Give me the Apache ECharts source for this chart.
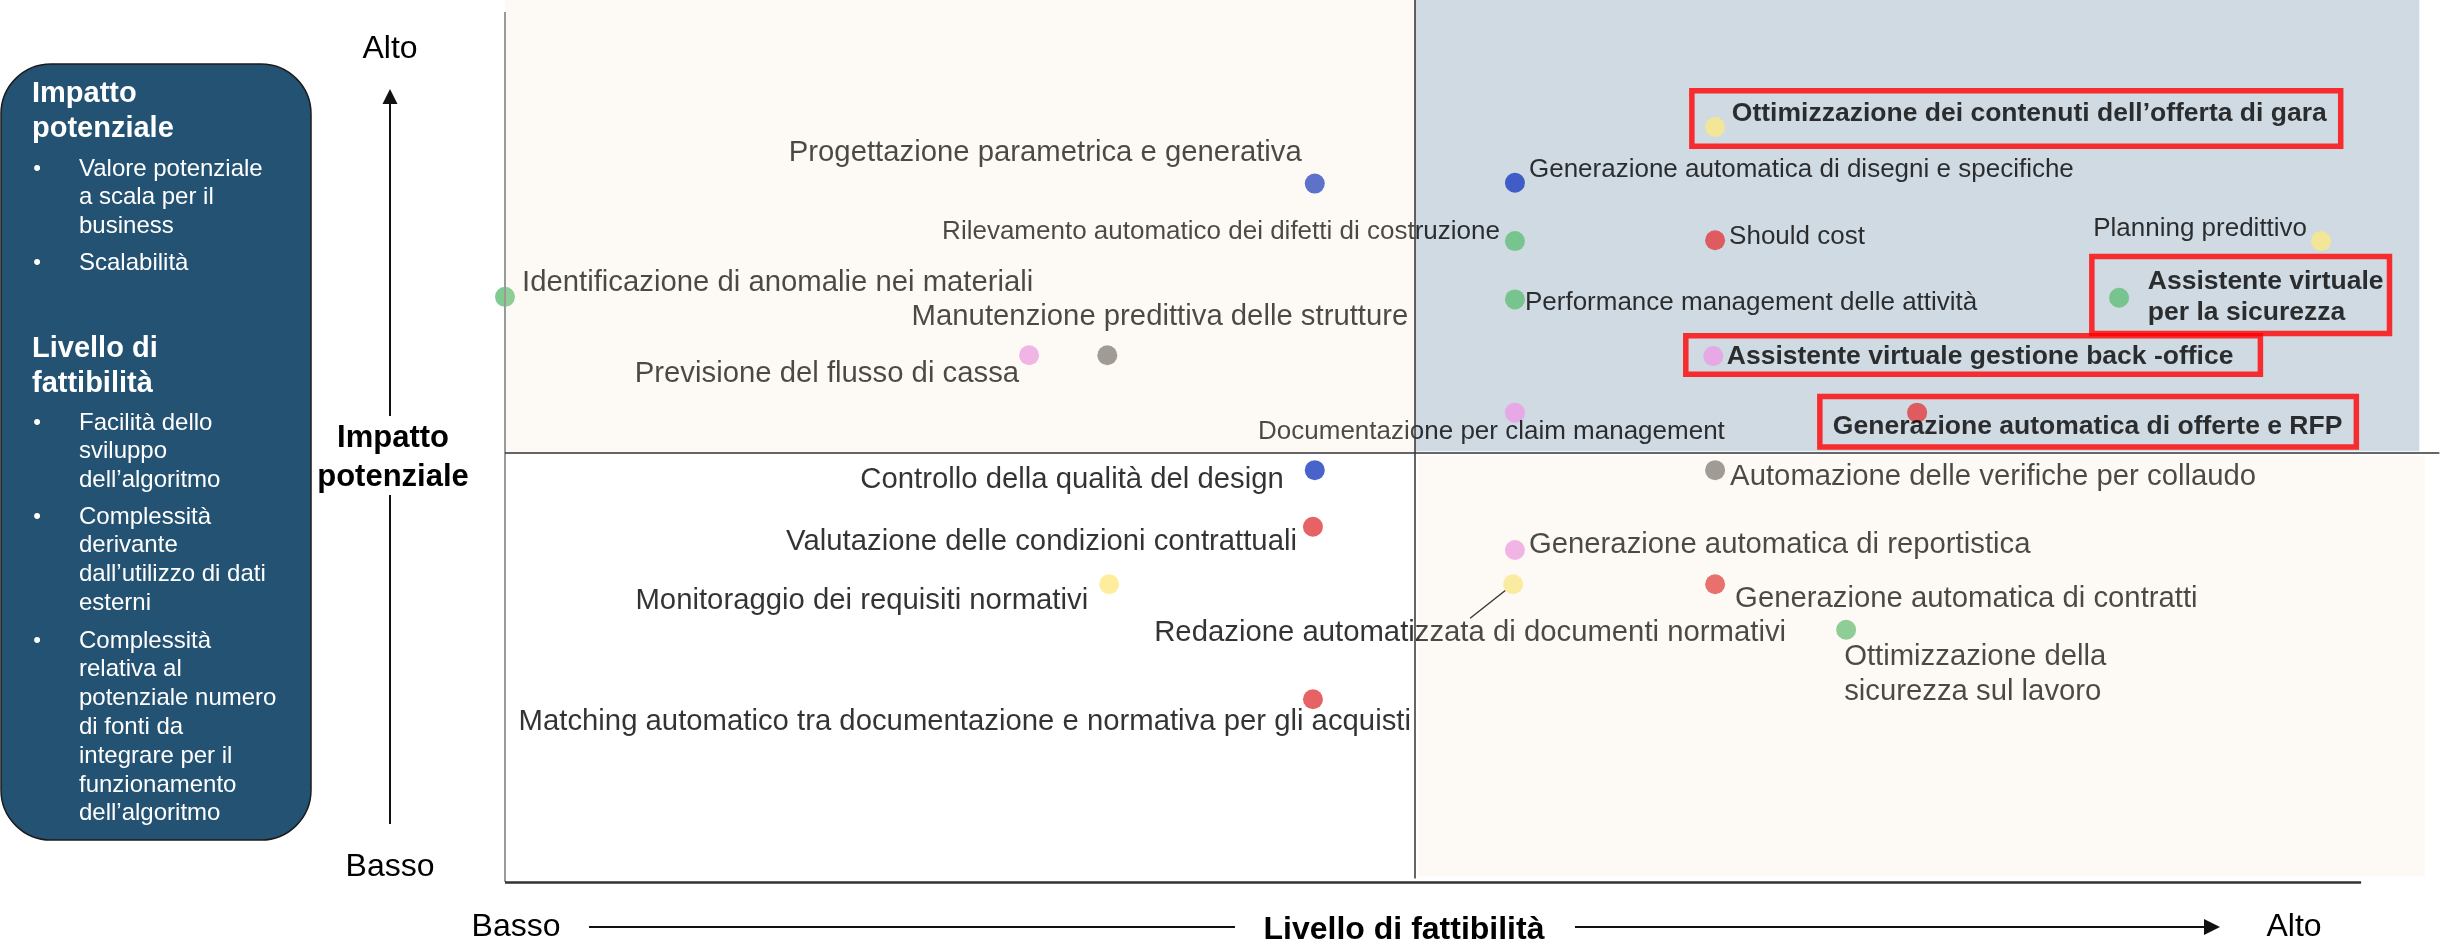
<!DOCTYPE html>
<html>
<head>
<meta charset="utf-8">
<title>Matrice impatto / fattibilità</title>
<script src="https://cdn.jsdelivr.net/npm/echarts@6/dist/echarts.min.js"></script>
<style>
  html, body { margin: 0; padding: 0; background: #fff; }
  #chart { width: 2445px; height: 952px; }
</style>
</head>
<body>
<div id="chart"></div>
<script>
const useCases = [
  'Progettazione parametrica e generativa',
  'Rilevamento automatico dei difetti di costruzione',
  'Identificazione di anomalie nei materiali',
  'Manutenzione predittiva delle strutture',
  'Previsione del flusso di cassa',
  'Documentazione per claim management',
  'Controllo della qualità del design',
  'Valutazione delle condizioni contrattuali',
  'Monitoraggio dei requisiti normativi',
  'Redazione automatizzata di documenti normativi',
  'Matching automatico tra documentazione e normativa per gli acquisti',
  'Ottimizzazione dei contenuti dell’offerta di gara',
  'Generazione automatica di disegni e specifiche',
  'Should cost',
  'Planning predittivo',
  'Assistente virtuale\nper la sicurezza',
  'Performance management delle attività',
  'Assistente virtuale gestione back -office',
  'Generazione automatica di offerte e RFP',
  'Automazione delle verifiche per collaudo',
  'Generazione automatica di reportistica',
  'Generazione automatica di contratti',
  'Ottimizzazione della\nsicurezza sul lavoro'
]
// livello di fattibilità (0 = basso, 50 = metà)
const feasibility = [44.5, 55.5, 0, 33.1, 28.8, 55.5, 44.5, 44.4, 33.2, 55.4, 44.4, 66.5, 55.5, 66.5, 99.8, 88.7, 55.5, 66.4, 77.6, 66.5, 55.5, 66.5, 73.7]
// impatto potenziale (0 = basso, 50 = metà)
const impact = [81.4, 74.7, 68.2, 61.4, 61.4, 54.7, 48.0, 41.4, 34.7, 34.7, 21.3, 88.0, 81.5, 74.8, 74.7, 68.1, 67.9, 61.3, 54.7, 48.0, 38.7, 34.7, 29.4]
const family = ['blu', 'verde', 'verde', 'grigio', 'rosa', 'rosa', 'blu', 'rosso', 'giallo', 'giallo', 'rosso',
  'giallo', 'blu', 'rosso', 'giallo', 'verde', 'verde', 'rosa', 'rosso', 'grigio', 'rosa', 'rosso', 'verde']
// casi evidenziati in rosso
const priority = [11, 15, 17, 18]

const yTicks = ['Basso', 'Alto']
const xTicks = ['Basso', 'Alto']
const yTitle = 'Impatto\npotenziale'
const xTitle = 'Livello di fattibilità'

const palette = {
  blu: '#1b3cbf',
  verde: '#62be78',
  rosso: '#e13b3d',
  giallo: '#fde985',
  rosa: '#ec9be6',
  grigio: '#7a7774'
}

// label offset from the dot centre [dx, dy, align]; boxed ones give the box top-left
const labelPos = [
  [-13, -31, 'right'], [-15, -9, 'right'], [17, -14, 'left'], [301, -38, 'right'],
  [-10, 19, 'right'], [-23.5, 19, 'center'], [-31, 10, 'right'], [-16, 15, 'right'],
  [-21, 17, 'right'], [-43, 49, 'center'], [98, 23, 'right'], [-23.25, -36.25, 'left'],
  [14, -13, 'left'], [14, -3, 'left'], [-14, -12, 'right'], [-27.25, -41.25, 'left'],
  [10, 3, 'left'], [-27.5, -20.25, 'left'], [-97.25, -16.25, 'left'], [15, 7, 'left'],
  [14, -5, 'left'], [20, 15, 'left'], [-2, 44.5, 'left']
]
const boxPadding = { 11: [8, 14, 17.5, 40], 15: [10, 6, 5, 56], 17: [7, 27, 3.5, 41], 18: [15, 14, 5.5, 13] }
const lineHeights = { 15: 31, 17: 28, 22: 35 }
// these labels use the larger text size of the original slide
const largeLabels = [0, 2, 3, 4, 6, 7, 8, 9, 10, 19, 20, 21, 22]

const FONT = '"Liberation Sans", Arial, sans-serif'
const SPLIT = 50

const points = useCases.map((name, i) => {
  const [dx, dy, align] = labelPos[i]
  const boxed = priority.includes(i)
  const label = {
    position: [10 + dx, 10 + dy],
    align: align,
    verticalAlign: boxed ? 'top' : 'middle',
    fontSize: largeLabels.includes(i) ? 29.3 : 26,
    lineHeight: lineHeights[i] || 30
  }
  if (boxed) {
    Object.assign(label, {
      fontWeight: 'bold',
      fontSize: 26.5,
      borderColor: '#ff0000',
      borderWidth: 5.5,
      padding: boxPadding[i]
    })
  }
  const item = {
    name: name,
    value: [feasibility[i], impact[i]],
    itemStyle: { color: palette[family[i]] },
    label: label
  }
  if (i === 9) {
    item.labelLine = { show: true, lineStyle: { color: '#222', width: 1.5 } }
  }
  return item
})

const text = (x, y, str, font, extra) => ({
  type: 'text',
  x: x,
  y: y,
  silent: true,
  style: Object.assign({
    text: str,
    font: font,
    fill: '#000',
    align: 'center',
    verticalAlign: 'middle',
    textAlign: 'center',
    textVerticalAlign: 'middle'
  }, extra || {})
})

const boxText = (y, str, bold) => text(bold ? 32 : 79, y, str,
  (bold ? 'bold 29px ' : '24px ') + FONT,
  { fill: '#fff', align: 'left', textAlign: 'left', verticalAlign: 'top', textVerticalAlign: 'top', lineHeight: bold ? 35 : 28.8 })
const bullet = (y) => text(37, y, '•', '22px ' + FONT, { fill: '#fff' })

const line = (x1, y1, x2, y2) => ({
  type: 'line',
  silent: true,
  shape: { x1, y1, x2, y2 },
  style: { stroke: '#111', lineWidth: 2 }
})

const chart = echarts.init(document.getElementById('chart'), null, { renderer: 'canvas' })

chart.setOption({
  animation: false,
  grid: { left: 505, top: 0, width: 1938, height: 882 },
  xAxis: { type: 'value', min: 0, max: 106.5, show: false },
  yAxis: { type: 'value', min: 0, max: 102.8, show: false },
  graphic: [
    {
      type: 'rect',
      silent: true,
      shape: { x: 1, y: 64, width: 310, height: 776, r: 50 },
      style: { fill: '#245273', stroke: '#1b1b1b', lineWidth: 1.5 }
    },
    boxText(76.5, 'Impatto\npotenziale', true),
    bullet(169), boxText(154.6, 'Valore potenziale\na scala per il\nbusiness'),
    bullet(263), boxText(248.6, 'Scalabilità'),
    boxText(331.5, 'Livello di\nfattibilità', true),
    bullet(423), boxText(408.6, 'Facilità dello\nsviluppo\ndell’algoritmo'),
    bullet(517), boxText(502.6, 'Complessità\nderivante\ndall’utilizzo di dati\nesterni'),
    bullet(641), boxText(626.6, 'Complessità\nrelativa al\npotenziale numero\ndi fonti da\nintegrare per il\nfunzionamento\ndell’algoritmo'),

    // asse verticale
    text(390, 49, yTicks[1], '32px ' + FONT),
    text(390, 867, yTicks[0], '32px ' + FONT),
    text(393, 457.5, yTitle, 'bold 31px ' + FONT, { lineHeight: 39 }),
    line(390, 824, 390, 495),
    line(390, 416, 390, 102),
    {
      type: 'polygon',
      silent: true,
      shape: { points: [[390, 89], [382.5, 104], [397.5, 104]] },
      style: { fill: '#111' }
    },

    // asse orizzontale
    text(516, 927, xTicks[0], '32px ' + FONT),
    text(2294, 927, xTicks[1], '32px ' + FONT),
    text(1404, 930, xTitle, 'bold 32px ' + FONT),
    line(589, 927, 1235, 927),
    line(1575, 927, 2206, 927),
    {
      type: 'polygon',
      silent: true,
      shape: { points: [[2220, 927], [2204, 919], [2204, 935]] },
      style: { fill: '#111' }
    }
  ],
  series: [
    {
      // quadrante alto-destra
      type: 'scatter',
      data: [],
      silent: true,
      markArea: {
        silent: true,
        z: 0,
        itemStyle: { color: '#cfdae3' },
        data: [[{ coord: [SPLIT, SPLIT + 0.2] }, { coord: [105.2, 102.8] }]]
      }
    },
    {
      type: 'scatter',
      symbol: 'circle',
      symbolSize: 20,
      z: 2,
      silent: true,
      data: points,
      label: {
        show: true,
        formatter: '{b}',
        color: '#000',
        fontSize: 26,
        fontFamily: FONT
      },
      labelLayout: (params) => {
        if (params.dataIndex !== 9) return {}
        const r = params.rect
        return {
          labelLinePoints: [[r.x - 3, r.y + 13], [r.x - 21, r.y + 27.5], [r.x - 39, r.y + 42]]
        }
      }
    },
    {
      // velatura crema sui quadranti alto-sinistra e basso-destra
      type: 'scatter',
      data: [],
      silent: true,
      markArea: {
        silent: true,
        z: 3,
        itemStyle: { color: 'rgba(240, 216, 178, 0.13)' },
        data: [
          [{ coord: [0, SPLIT] }, { coord: [SPLIT, 102.8] }],
          [{ coord: [SPLIT + 0.2, 0.7] }, { coord: [105.5, SPLIT - 0.3] }]
        ]
      },
      markLine: {
        silent: true,
        symbol: ['none', 'none'],
        label: { show: false },
        z: 5,
        data: [
          [{ coord: [0, 101.4], lineStyle: { color: '#9a9a9a', width: 2, type: 'solid' } }, { coord: [0, 0] }],
          [{ coord: [0, 0], lineStyle: { color: '#333', width: 2.5, type: 'solid' } }, { coord: [102, 0] }],
          [{ coord: [0, SPLIT], lineStyle: { color: '#333', width: 1.5, type: 'solid' } }, { coord: [106.3, SPLIT] }],
          [{ coord: [SPLIT, 0.4], lineStyle: { color: '#333', width: 1.5, type: 'solid' } }, { coord: [SPLIT, 102.8] }]
        ]
      }
    }
  ]
})

window.addEventListener('resize', () => chart.resize())
</script>
</body>
</html>
